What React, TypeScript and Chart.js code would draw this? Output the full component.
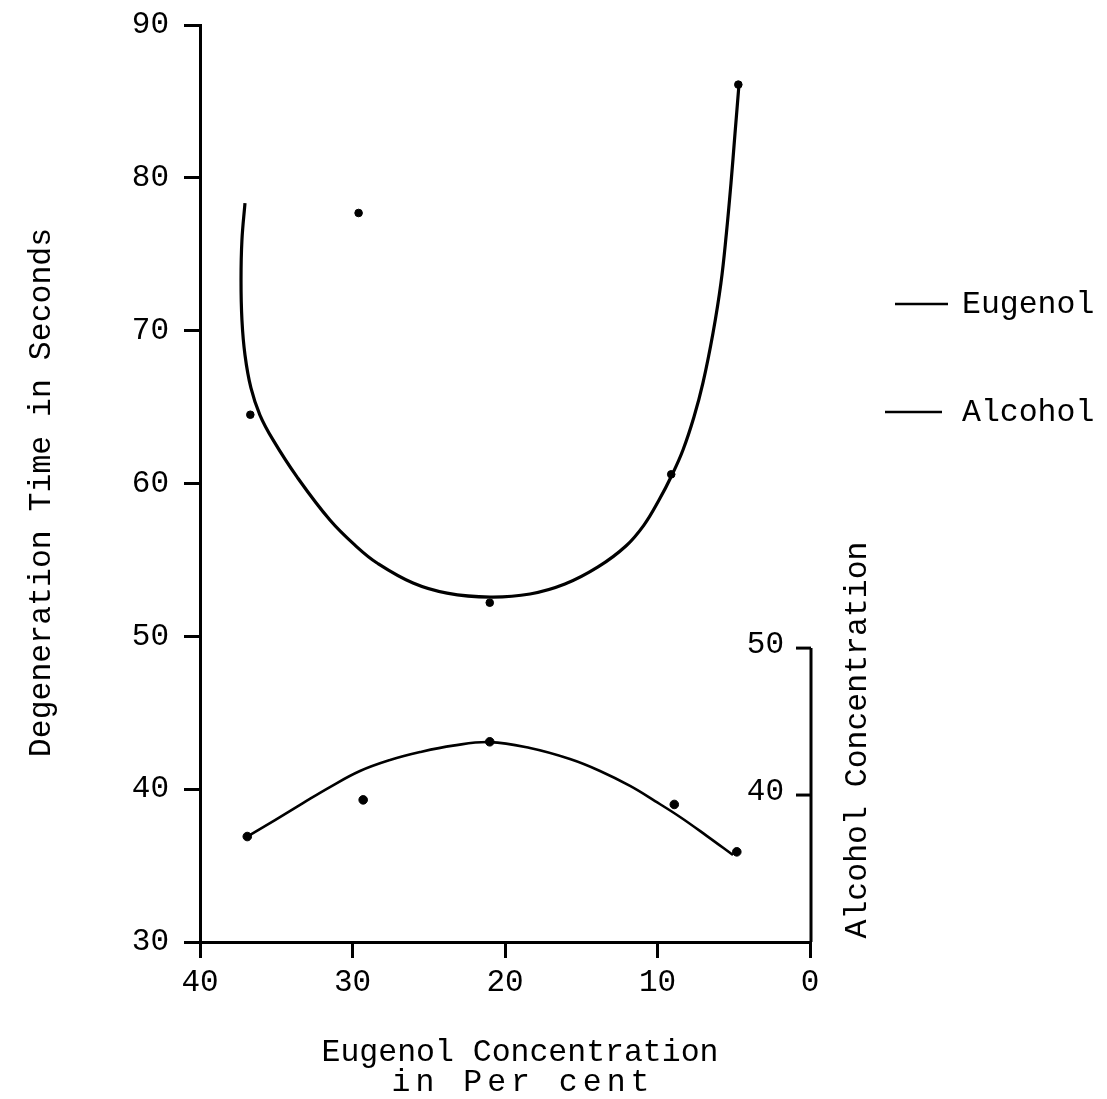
import React, { useEffect, useRef } from "react";
import { Chart, registerables } from "chart.js";

Chart.register(...registerables);

// ---- Data ----
const X_TICKS = [0, 10, 20, 30, 40];
const Y_TICKS = [30, 40, 50, 60, 70, 80, 90];
const ALCOHOL_AXIS_TICKS = [40, 50];
const ALCOHOL_AXIS_RANGE = [30, 50];

const EUGENOL_POINTS_X = [36.7, 29.6, 21.0, 9.1, 4.7];
const EUGENOL_POINTS_Y = [64.5, 77.7, 52.2, 60.6, 86.1];
const ALCOHOL_POINTS_X = [36.9, 29.3, 21.0, 8.9, 4.8];
const ALCOHOL_POINTS_Y = [36.9, 39.3, 43.1, 39.0, 35.9];

const EUGENOL_CURVE_X = [37.05, 37.25, 37.31, 37.25, 37.05, 36.66, 36.07, 35.21, 33.64, 31.48, 29.7, 28.39, 26.03, 23.8, 20.98, 18.36, 16.07, 13.9, 12.07, 10.89, 9.9, 9.05, 8.33, 7.61, 7.02, 6.36, 5.84, 5.48, 5.18, 4.92, 4.66];
const EUGENOL_CURVE_Y = [78.35, 75.93, 73.31, 70.7, 68.41, 66.25, 64.48, 62.85, 60.43, 57.61, 55.84, 54.8, 53.49, 52.83, 52.57, 52.77, 53.42, 54.54, 55.91, 57.28, 58.92, 60.56, 62.19, 64.35, 66.58, 69.85, 73.12, 76.39, 79.66, 82.87, 86.07];
const ALCOHOL_CURVE_X = [36.85, 35.08, 33.25, 31.48, 29.51, 27.54, 25.57, 23.41, 20.98, 18.36, 15.74, 13.77, 11.8, 10.16, 8.52, 6.75, 5.05];
const ALCOHOL_CURVE_Y = [36.93, 37.98, 39.09, 40.14, 41.19, 41.91, 42.43, 42.85, 43.08, 42.69, 41.97, 41.19, 40.21, 39.22, 38.18, 36.93, 35.69];

const SERIES_NAMES = ["Eugenol", "Alcohol"];
const Y_TITLE = "Degeneration Time in Seconds";
const X_TITLE = ["Eugenol Concentration", "in Per cent"];
const Y2_TITLE = "Alcohol Concentration";

const FONT = "'Liberation Mono', 'DejaVu Sans Mono', monospace";
const TICK_SIZE = 31;
const TITLE_SIZE = 31.5;

const toXY = (xs: number[], ys: number[]) => xs.map((x, i) => ({ x, y: ys[i] }));

const overlayPlugin = {
  id: "overlay",
  afterDraw(chart: any) {
    const ctx = chart.ctx as any;
    const xs = chart.scales.x;
    const ys = chart.scales.y;
    const y2 = chart.scales.y2;
    ctx.save();
    ctx.strokeStyle = "#000";
    ctx.fillStyle = "#000";
    ctx.font = `${TICK_SIZE}px ${FONT}`;

    // right (alcohol) axis
    const ax = xs.getPixelForValue(0) + 1;
    ctx.lineWidth = 3;
    ctx.beginPath();
    ctx.moveTo(ax, y2.getPixelForValue(ALCOHOL_AXIS_RANGE[1]));
    ctx.lineTo(ax, y2.getPixelForValue(ALCOHOL_AXIS_RANGE[0]));
    ctx.stroke();
    ctx.textAlign = "right";
    ctx.textBaseline = "middle";
    ALCOHOL_AXIS_TICKS.forEach((t) => {
      const py = y2.getPixelForValue(t);
      ctx.beginPath();
      ctx.moveTo(ax, py);
      ctx.lineTo(ax - 15, py);
      ctx.stroke();
      ctx.fillText(String(t), ax - 27, py - 3);
    });

    ctx.font = `${TITLE_SIZE}px ${FONT}`;
    // right axis title
    ctx.save();
    ctx.translate(ax + 47, ys.bottom - 202);
    ctx.rotate(-Math.PI / 2);
    ctx.textAlign = "center";
    ctx.fillText(Y2_TITLE, 0, 0);
    ctx.restore();

    // left axis title
    ctx.save();
    ctx.translate(42, (ys.top + ys.bottom) / 2 + 9);
    ctx.rotate(-Math.PI / 2);
    ctx.textAlign = "center";
    ctx.fillText(Y_TITLE, 0, 0);
    ctx.restore();

    // x axis title
    ctx.textAlign = "center";
    const cx = (xs.left + xs.right) / 2 + 15;
    ctx.fillText(X_TITLE[0], cx, 1053);
    ctx.save();
    ctx.letterSpacing = "5px";
    ctx.fillText(X_TITLE[1], cx + 3, 1083);
    ctx.restore();

    // legend
    ctx.textAlign = "left";
    ctx.lineWidth = 2.5;
    const legendRows = [
      { y: 305, x0: 895, x1: 948 },
      { y: 413, x0: 885, x1: 942 },
    ];
    SERIES_NAMES.forEach((name, i) => {
      const r = legendRows[i];
      ctx.beginPath();
      ctx.moveTo(r.x0, r.y - 1);
      ctx.lineTo(r.x1, r.y - 1);
      ctx.stroke();
      ctx.fillText(name, 962, r.y);
    });
    ctx.restore();
  },
};

export default function App() {
  const ref = useRef<HTMLCanvasElement | null>(null);
  useEffect(() => {
    if (!ref.current) return;
    const tickFont = { family: FONT, size: TICK_SIZE };
    const chart = new Chart(ref.current, {
      type: "scatter",
      data: {
        datasets: [
          {
            label: SERIES_NAMES[0] + " curve",
            data: toXY(EUGENOL_CURVE_X, EUGENOL_CURVE_Y),
            showLine: true,
            pointRadius: 0,
            borderColor: "#000",
            borderWidth: 3.2,
            tension: 0.4,
          },
          {
            label: SERIES_NAMES[1] + " curve",
            data: toXY(ALCOHOL_CURVE_X, ALCOHOL_CURVE_Y),
            showLine: true,
            pointRadius: 0,
            borderColor: "#000",
            borderWidth: 2.6,
            tension: 0.4,
          },
          {
            label: SERIES_NAMES[0],
            data: toXY(EUGENOL_POINTS_X, EUGENOL_POINTS_Y),
            pointRadius: 3.8,
            backgroundColor: "#000",
            borderColor: "#000",
          },
          {
            label: SERIES_NAMES[1],
            data: toXY(ALCOHOL_POINTS_X, ALCOHOL_POINTS_Y),
            pointRadius: 4.3,
            backgroundColor: "#000",
            borderColor: "#000",
          },
        ],
      },
      options: {
        responsive: false,
        animation: false,
        devicePixelRatio: 1,
        layout: { padding: { top: 25, right: 297, left: 0, bottom: 0 } },
        plugins: { legend: { display: false }, tooltip: { enabled: false } },
        scales: {
          x: {
            type: "linear",
            reverse: true,
            min: 0,
            max: 40,
            afterBuildTicks: (s: any) => {
              s.ticks = X_TICKS.map((v) => ({ value: v }));
            },
            afterFit: (s: any) => {
              s.height = 157;
              s.paddingLeft = 0;
              s.paddingRight = 0;
            },
            ticks: { font: tickFont, color: "#000", padding: 6, maxRotation: 0 },
            grid: { drawOnChartArea: false, drawTicks: true, tickLength: 16, color: "#000", lineWidth: 3 },
            border: { display: true, color: "#000", width: 3 },
          },
          y: {
            type: "linear",
            min: 30,
            max: 90,
            afterBuildTicks: (s: any) => {
              s.ticks = Y_TICKS.map((v) => ({ value: v }));
            },
            afterFit: (s: any) => {
              s.width = 200;
              s.paddingTop = 0;
              s.paddingBottom = 0;
            },
            ticks: { font: tickFont, color: "#000", padding: 15 },
            grid: { drawOnChartArea: false, drawTicks: true, tickLength: 16, color: "#000", lineWidth: 3 },
            border: { display: true, color: "#000", width: 3 },
          },
          y2: {
            type: "linear",
            display: false,
            position: "right",
            min: 30,
            max: 92.4,
          },
        },
      },
      plugins: [overlayPlugin],
    } as any);
    return () => chart.destroy();
  }, []);
  return (
    <div style={{ position: "absolute", left: 0, top: 0, width: 1107, height: 1099, background: "#fff" }}>
      <canvas ref={ref} width={1107} height={1099} />
    </div>
  );
}
